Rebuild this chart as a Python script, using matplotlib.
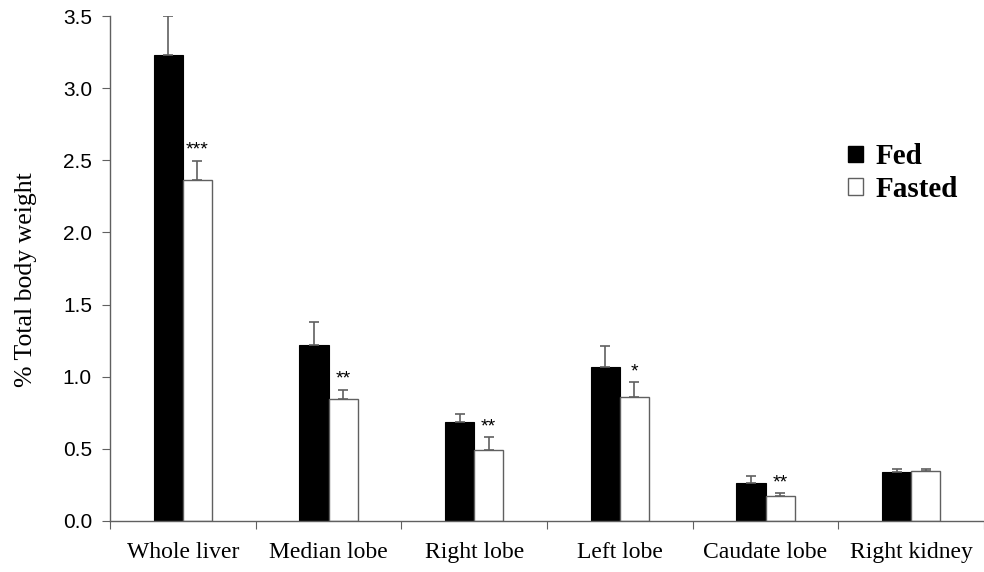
import matplotlib.pyplot as plt
from matplotlib.patches import Patch
import numpy as np

categories = ["Whole liver", "Median lobe", "Right lobe", "Left lobe", "Caudate lobe", "Right kidney"]
fed = [3.23, 1.22, 0.686, 1.07, 0.263, 0.34]
fed_err = [0.27, 0.16, 0.055, 0.14, 0.05, 0.02]
fasted = [2.36, 0.845, 0.49, 0.86, 0.173, 0.347]
fasted_err = [0.135, 0.065, 0.09, 0.10, 0.02, 0.015]
stars = ["***", "**", "**", "*", "**", ""]

gray = "#606060"

fig = plt.figure(figsize=(9.84, 5.72), dpi=100)
ax = fig.add_axes([110 / 984, 51 / 572, 874 / 984, 505 / 572])

x = np.arange(len(categories)) + 0.5
w = 0.2
ax.bar(x - w / 2, fed, w, color="black", edgecolor="black", linewidth=0.8)
ax.bar(x + w / 2, fasted, w, color="white", edgecolor=gray, linewidth=1.0)
ax.errorbar(x - w / 2, fed, yerr=[np.zeros(6), fed_err], fmt="none",
            ecolor=gray, elinewidth=1.2, capsize=3.5, capthick=1.2)
ax.errorbar(x + w / 2, fasted, yerr=[np.zeros(6), fasted_err], fmt="none",
            ecolor=gray, elinewidth=1.2, capsize=3.5, capthick=1.2)

for xi, v, e, s in zip(x + w / 2, fasted, fasted_err, stars):
    if s:
        ax.text(xi, v + e + 0.015, s, ha="center", va="bottom", fontsize=14,
                family="Liberation Sans")

ax.set_xlim(0, 874 / 146.6)
ax.set_ylim(0, 3.5)
ax.set_yticks(np.arange(0, 3.51, 0.5))
ax.set_yticklabels([f"{v:.1f}" for v in np.arange(0, 3.51, 0.5)],
                   family="Liberation Sans", fontsize=15)
ax.set_xticks(np.arange(0, 7))
ax.set_xticklabels([])
ax.set_xticks(x, minor=True)
ax.set_xticklabels(categories, minor=True, family="Liberation Serif", fontsize=17)
ax.tick_params(axis="x", which="minor", length=0, pad=15)
ax.tick_params(axis="x", which="major", length=6, color=gray)
ax.tick_params(axis="y", length=6, color=gray, pad=7)

for side in ["top", "right"]:
    ax.spines[side].set_visible(False)
for side in ["left", "bottom"]:
    ax.spines[side].set_color(gray)
    ax.spines[side].set_linewidth(1.0)

ax.set_ylabel("% Total body weight", family="Liberation Serif", fontsize=18.5)
ax.yaxis.set_label_coords(-0.084, 0.477)

handles = [Patch(facecolor="black", edgecolor="black", label="Fed"),
           Patch(facecolor="white", edgecolor=gray, label="Fasted")]
ax.legend(handles=handles, loc="upper left", bbox_to_anchor=(822 / 984, 455 / 572),
          bbox_transform=fig.transFigure, frameon=False, handlelength=0.5,
          handleheight=0.5, handletextpad=0.45, labelspacing=0.2,
          prop={"family": "Liberation Serif", "weight": "bold", "size": 21})

fig.savefig("out.png", dpi=100)
